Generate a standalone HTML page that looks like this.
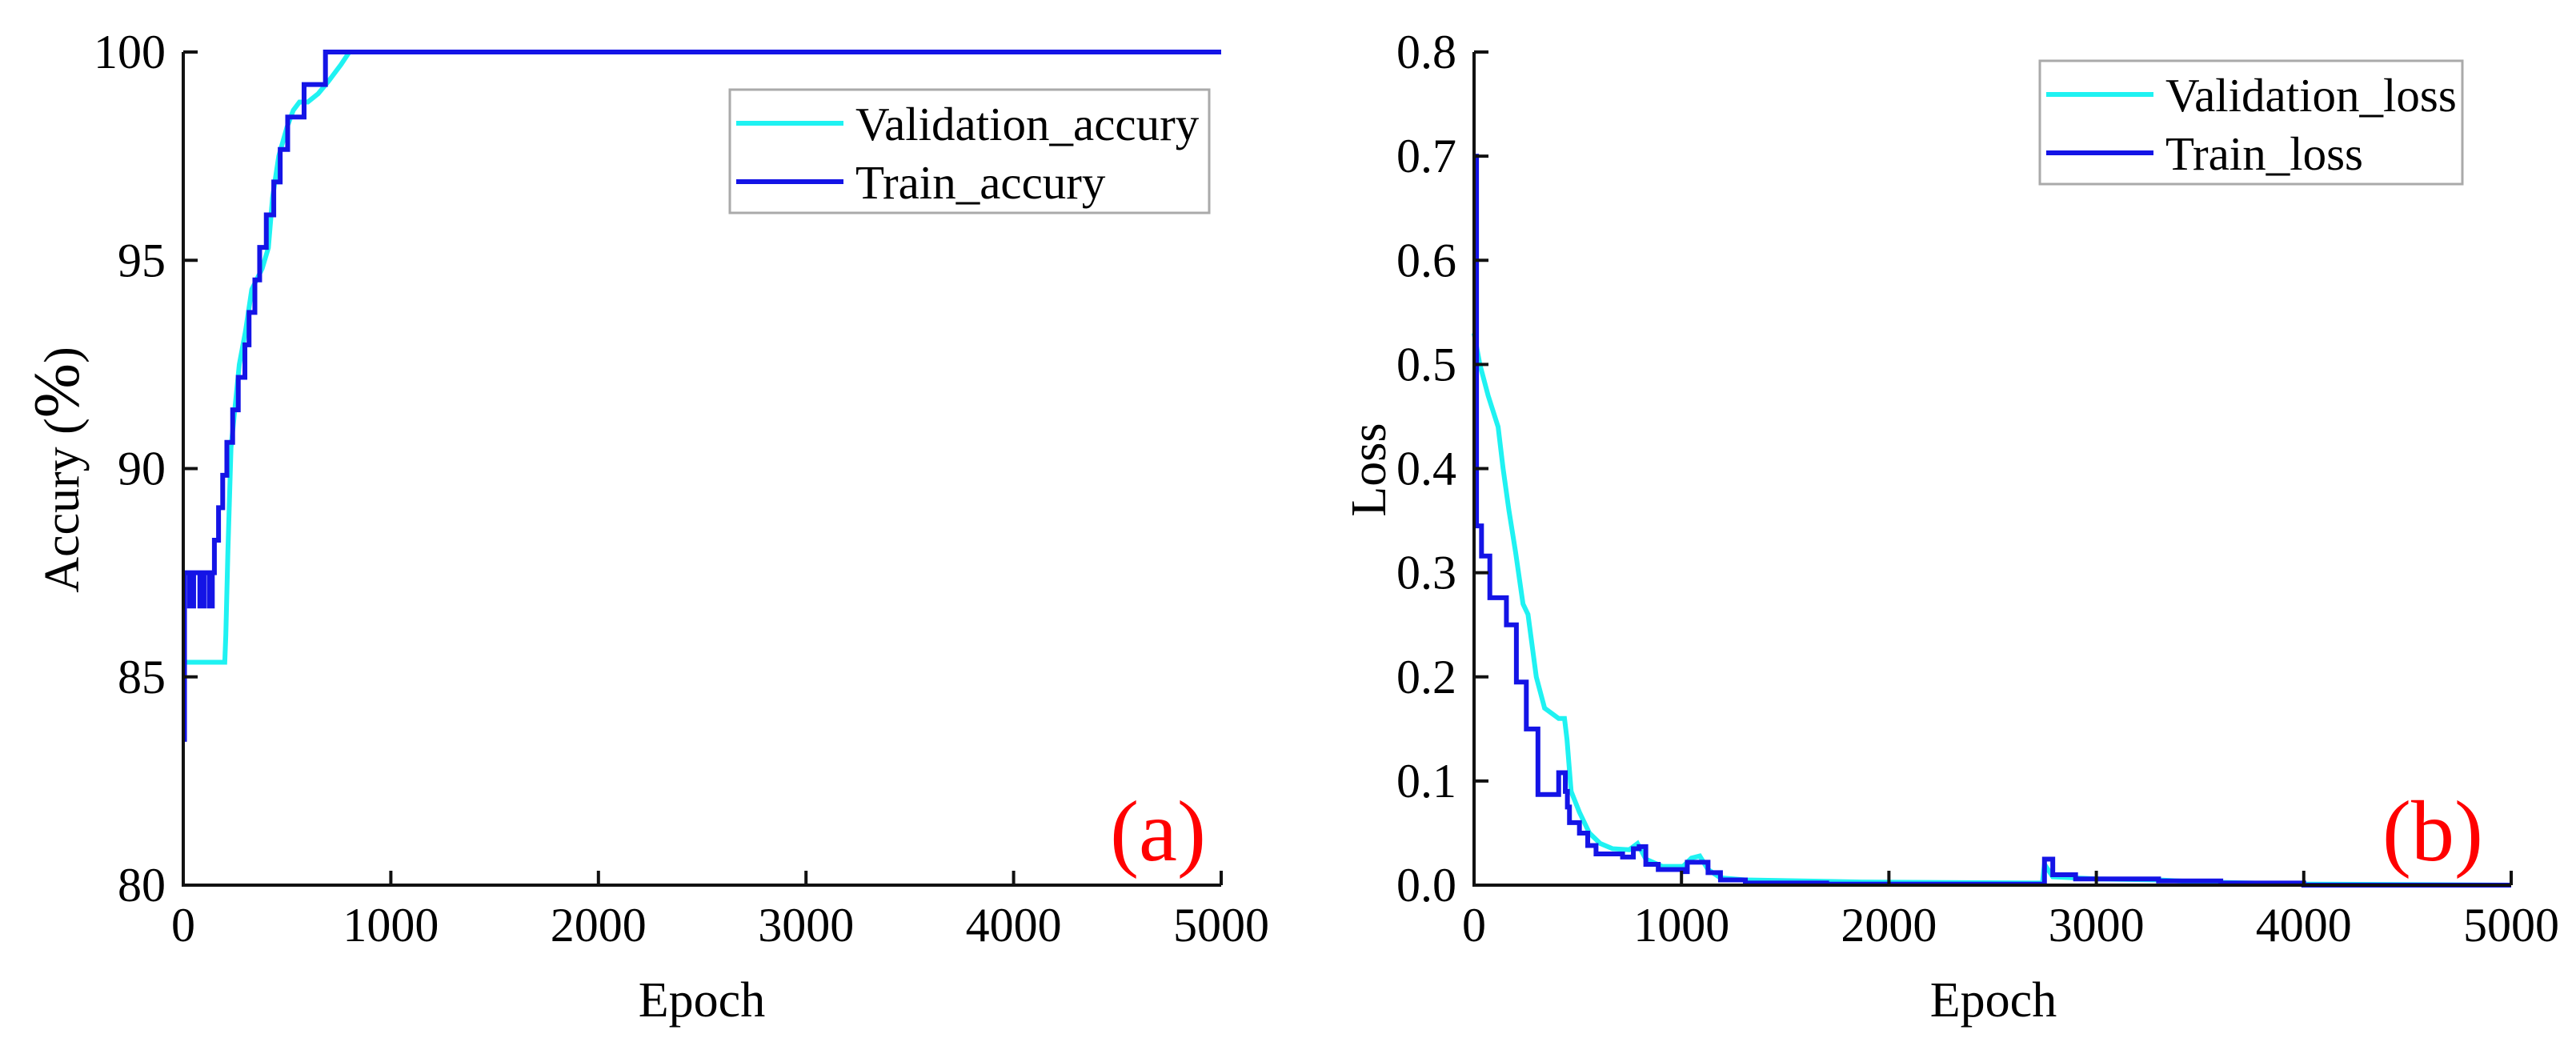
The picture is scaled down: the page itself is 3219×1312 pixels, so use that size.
<!DOCTYPE html>
<html><head><meta charset="utf-8"><style>
html,body{margin:0;padding:0;background:#fff}
svg{display:block}
text{font-family:"Liberation Serif",serif;fill:#000}
</style></head><body>
<svg id="chart" width="3219" height="1312" viewBox="0 0 3219 1312" xmlns="http://www.w3.org/2000/svg"></svg>
<script>
// ---- data ----
const epochTicks = [0, 1000, 2000, 3000, 4000, 5000];
const accTicks = [80, 85, 90, 95, 100];
const lossTicks = [0.0, 0.1, 0.2, 0.3, 0.4, 0.5, 0.6, 0.7, 0.8];
// train accuracy (step series): epoch, value
const trainAccEpoch = [0, 6, 30, 50, 80, 100, 125, 140, 150, 170, 190, 210, 238, 265, 297, 317, 345, 368, 400, 436, 467, 503, 582, 685, 5000];
const trainAccValue = [83.5, 87.5, 86.7, 87.5, 86.7, 87.5, 86.7, 87.5, 88.28, 89.06, 89.84, 90.63, 91.41, 92.19, 92.97, 93.75, 94.53, 95.31, 96.09, 96.88, 97.66, 98.44, 99.22, 100, 100];
// validation accuracy
const valAccEpoch = [0, 200, 205, 215, 230, 250, 270, 300, 330, 380, 410, 430, 460, 500, 530, 560, 600, 650, 700, 760, 800, 5000];
const valAccValue = [85.35, 85.35, 86, 88, 90.5, 91.5, 92.5, 93.3, 94.3, 94.8, 95.3, 96.5, 97.5, 98.2, 98.6, 98.8, 98.8, 99.0, 99.3, 99.7, 100, 100];
// train loss (step series)
const trainLossEpoch = [0, 12, 36, 76, 156, 204, 252, 308, 408, 440, 450, 460, 508, 548, 588, 716, 768, 796, 828, 888, 1008, 1028, 1088, 1128, 1188, 1308, 1700, 2740, 2750, 2790, 2900, 3300, 3600, 4000, 5000];
const trainLossValue = [0.70, 0.345, 0.316, 0.276, 0.25, 0.195, 0.15, 0.087, 0.108, 0.09, 0.075, 0.06, 0.05, 0.038, 0.03, 0.027, 0.035, 0.037, 0.02, 0.015, 0.013, 0.022, 0.022, 0.012, 0.005, 0.002, 0.001, 0.001, 0.025, 0.01, 0.006, 0.004, 0.002, 0.0, 0.0];
// validation loss
const valLossEpoch = [0, 28, 68, 116, 140, 168, 200, 236, 260, 300, 340, 408, 436, 448, 468, 508, 556, 608, 668, 748, 788, 828, 908, 1008, 1048, 1088, 1128, 1188, 1308, 1868, 2740, 2750, 2790, 3000, 3300, 3500, 4000, 5000];
const valLossValue = [0.53, 0.50, 0.47, 0.44, 0.40, 0.36, 0.32, 0.27, 0.26, 0.20, 0.17, 0.16, 0.16, 0.14, 0.09, 0.07, 0.05, 0.04, 0.035, 0.034, 0.04, 0.025, 0.018, 0.018, 0.026, 0.028, 0.015, 0.007, 0.005, 0.003, 0.002, 0.02, 0.008, 0.006, 0.005, 0.003, 0.001, 0.0];

const NS = 'http://www.w3.org/2000/svg';
const svg = document.getElementById('chart');
function mk(tag, attrs, parent) {
  const e = document.createElementNS(NS, tag);
  for (const k in attrs) e.setAttribute(k, attrs[k]);
  (parent || svg).appendChild(e);
  return e;
}

function panel(cfg) {
  const g = mk('g', {});
  
  
  const xs = e => cfg.x0 + e / 5000 * (cfg.x1 - cfg.x0);
  const ys = v => cfg.yB - (v - cfg.ymin) / (cfg.ymax - cfg.ymin) * (cfg.yB - cfg.yT);
  cfg.series.forEach(s => {
    let pts = [];
    for (let i = 0; i < s.ep.length; i++) {
      if (s.step && i > 0) pts.push(xs(s.ep[i]) + ',' + ys(s.val[i - 1]));
      pts.push(xs(s.ep[i]) + ',' + ys(s.val[i]));
    }
    const pl = mk('polyline', {points: pts.join(' '), fill: 'none', stroke: s.color, 'stroke-width': 6}, g);
    
    
  });
  const ax = mk('path', {d: `M${cfg.x0},${cfg.yT} L${cfg.x0},${cfg.yB} L${cfg.x1},${cfg.yB}`, fill: 'none', stroke: '#111', 'stroke-width': 4}, g);
  
  
  epochTicks.forEach(t => {
    const x = xs(t);
    const tk = mk('line', {x1: x, y1: cfg.yB, x2: x, y2: cfg.yB - 18, stroke: '#111', 'stroke-width': 4}, g);
    
    
    const tl = mk('text', {x: x, y: cfg.yB + 70, 'font-size': 60, 'text-anchor': 'middle'}, g);
    tl.textContent = t;
    
    
  });
  cfg.yticks.forEach(t => {
    const y = ys(t);
    const tk = mk('line', {x1: cfg.x0, y1: y, x2: cfg.x0 + 18, y2: y, stroke: '#111', 'stroke-width': 4}, g);
    
    
    const tl = mk('text', {x: cfg.x0 - 22, y: y + 20, 'font-size': 60, 'text-anchor': 'end'}, g);
    tl.textContent = cfg.fmt(t);
    
    
  });
  const xt = mk('text', {x: cfg.xtX, y: 1270, 'font-size': 62, 'text-anchor': 'middle'}, g);
  xt.textContent = 'Epoch';
  
  
  const L = cfg.legend;
  const lb = mk('rect', {x: L.x, y: L.y, width: L.w, height: L.h, fill: '#fff', stroke: '#aaa', 'stroke-width': 3}, g);
  
  
  cfg.series.forEach((s, i) => {
    const cy = L.y + 42 + i * 73;
    const ll = mk('line', {x1: L.x + 8, y1: cy, x2: L.x + 142, y2: cy, stroke: s.color, 'stroke-width': 6}, g);
    
    
    const lt = mk('text', {x: L.x + 157, y: cy + 21, 'font-size': 59}, g);
    lt.textContent = s.label;
    
    
  });
  const pl = mk('text', {x: cfg.letterX, y: 1075, 'font-size': 108, 'text-anchor': 'middle', style: 'fill:#ff0000'}, g);
  pl.textContent = cfg.letter;
  
  
  return g;
}

panel({name: 'accuracy-chart', x0: 229, x1: 1526, yT: 65, yB: 1106, ymin: 80, ymax: 100,
  yticks: accTicks, fmt: t => String(t), xtX: 877,
  legend: {x: 912, y: 112, w: 599, h: 154}, letter: '(a)', letterX: 1447,
  series: [
    {name: 'validation-accuracy-line', label: 'Validation_accury', color: '#1ff2f2', ep: valAccEpoch, val: valAccValue, step: false},
    {name: 'train-accuracy-line', label: 'Train_accury', color: '#1414e6', ep: trainAccEpoch, val: trainAccValue, step: true}
  ]
});
panel({name: 'loss-chart', x0: 1842, x1: 3138, yT: 65, yB: 1106, ymin: 0, ymax: 0.8,
  yticks: lossTicks, fmt: t => t.toFixed(1), xtX: 2491,
  legend: {x: 2549, y: 76, w: 528, h: 154}, letter: '(b)', letterX: 3040,
  series: [
    {name: 'validation-loss-line', label: 'Validation_loss', color: '#1ff2f2', ep: valLossEpoch, val: valLossValue, step: false},
    {name: 'train-loss-line', label: 'Train_loss', color: '#1414e6', ep: trainLossEpoch, val: trainLossValue, step: true}
  ]
});

const yt1 = mk('text', {transform: 'translate(98,587) rotate(-90)', 'font-size': 62, 'text-anchor': 'middle'});
yt1.innerHTML = 'Accury (<tspan font-size="82">%</tspan>)';


const yt2 = mk('text', {transform: 'translate(1731,587) rotate(-90)', 'font-size': 62, 'text-anchor': 'middle'});
yt2.textContent = 'Loss';


</script>
</body></html>
